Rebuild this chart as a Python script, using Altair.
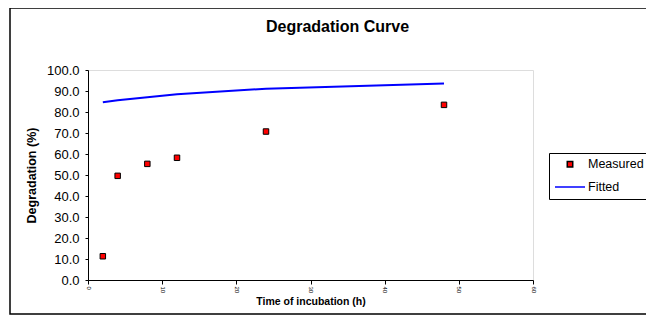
import altair as alt
import pandas as pd

time_h = [2, 4, 8, 12, 24, 48]
measured = [11.3, 49.6, 55.3, 58.2, 70.7, 83.4]
fitted = [84.6, 85.6, 87.0, 88.4, 91.1, 93.6]
series_names = ["Measured", "Fitted"]

df_m = pd.DataFrame({"time": time_h, "value": measured, "series": "Measured"})
df_f = pd.DataFrame({"time": time_h, "value": fitted, "series": "Fitted"})

FONT = "Liberation Sans"

stroke_scale = alt.Scale(domain=series_names, range=["#000000", "#0000ff"])
fill_scale = alt.Scale(domain=series_names, range=["#ff0000", "rgba(0,0,0,0)"])
shape_scale = alt.Scale(domain=series_names, range=["square", "stroke"])
size_scale = alt.Scale(domain=series_names, range=[30, 900])

legend = alt.Legend(
    title=None,
    orient="none",
    legendX=461,
    legendY=83,
    strokeColor="black",
    padding=5,
    labelFont=FONT,
    labelFontSize=12.5,
    labelColor="black",
    rowPadding=0,
    labelOffset=2,
    symbolStrokeWidth=1.5,
)

x_enc = alt.X(
    "time:Q",
    scale=alt.Scale(domain=[0, 60], nice=False),
    axis=alt.Axis(
        values=[0, 10, 20, 30, 40, 50, 60],
        title="Time of incubation (h)",
        titleFont=FONT,
        titleFontSize=10.5,
        titleFontWeight="bold",
        titleColor="black",
        titlePadding=4,
        labelAngle=90,
        labelFont=FONT,
        labelFontSize=6,
        labelColor="black",
        labelPadding=2,
        tickSize=4,
        tickColor="black",
        domainColor="black",
        grid=False,
    ),
)
y_enc = alt.Y(
    "value:Q",
    scale=alt.Scale(domain=[0, 100], nice=False),
    axis=alt.Axis(
        values=[0, 10, 20, 30, 40, 50, 60, 70, 80, 90, 100],
        format=".1f",
        title="Degradation (%)",
        titleFont=FONT,
        titleFontSize=12.5,
        titleFontWeight="bold",
        titleColor="black",
        titlePadding=8,
        labelFont=FONT,
        labelFontSize=13,
        labelColor="black",
        labelPadding=6,
        tickSize=3,
        tickColor="black",
        domainColor="black",
        grid=False,
    ),
)

line = alt.Chart(df_f).mark_line(strokeWidth=2).encode(
    x=x_enc,
    y=y_enc,
    stroke=alt.Stroke("series:N", scale=stroke_scale, legend=legend),
)

points = alt.Chart(df_m).mark_point(strokeWidth=1, opacity=1).encode(
    x=x_enc,
    y=y_enc,
    stroke=alt.Stroke("series:N", scale=stroke_scale, legend=legend),
    fill=alt.Fill("series:N", scale=fill_scale, legend=legend),
    shape=alt.Shape("series:N", scale=shape_scale, legend=legend),
    size=alt.Size("series:N", scale=size_scale, legend=legend),
)

border = alt.Chart(alt.Data(values=[{}])).mark_rect(
    fill="transparent", stroke="black", strokeWidth=1.5
).encode(
    x=alt.value(-78), x2=alt.value(700), y=alt.value(-62), y2=alt.value(244)
)

chart = alt.layer(border, line, points).properties(
    width=445,
    height=210,
    title=alt.TitleParams(
        "Degradation Curve",
        font=FONT,
        fontSize=16,
        fontWeight="bold",
        color="black",
        anchor="middle",
        dx=27,
        offset=-28,
    ),
    autosize=alt.AutoSizeParams(type="none"),
    padding={"left": 80, "top": 62, "right": 113, "bottom": 35},
).configure_view(stroke=None).configure(background="white")

chart.save("out.html", embed_options={"renderer": "svg", "actions": False})
